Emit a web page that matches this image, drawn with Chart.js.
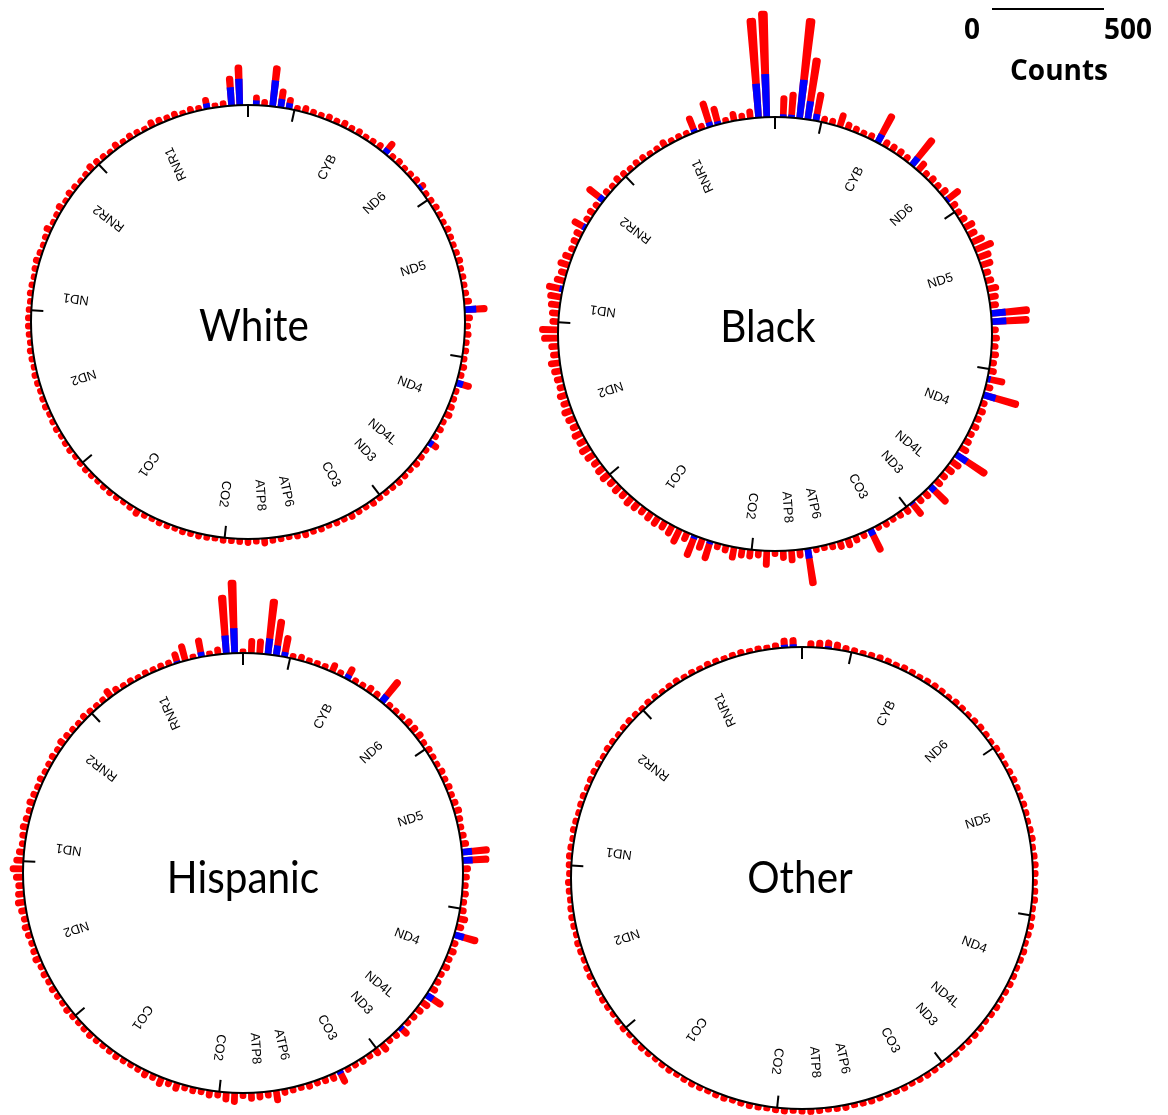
<!DOCTYPE html>
<html>
<head>
<meta charset="utf-8">
<script src="https://cdn.jsdelivr.net/npm/chart.js@4.4.1/dist/chart.umd.min.js"></script>
<style>
  html, body { margin: 0; padding: 0; background: #fff; }
  #page { position: relative; width: 1168px; height: 1115px; overflow: hidden; background: #fff; }
  canvas.ring { position: absolute; }
  .title { position: absolute; font-family: Lato, "Open Sans", sans-serif; font-size: 44px; line-height: 1;
           color: #000; transform: translate(-50%, -50%) scaleX(0.92); white-space: nowrap; }
  .scale-text { position: absolute; font-family: "Open Sans", Lato, sans-serif; font-weight: 700; font-size: 28px;
                line-height: 1; color: #000; transform: translateX(-50%); white-space: nowrap; }
  .scale-bar { position: absolute; height: 2px; background: #000; }
</style>
</head>
<body>
<div id="page"></div>
<script>
// mtDNA ring plots: variant counts in 100-bp windows, drawn outward from the genome circle.
const GENOME_LENGTH = 16569;
const BIN_SIZE = 100;
const BIN_STARTS = Array.from({ length: Math.ceil(GENOME_LENGTH / BIN_SIZE) }, (_, i) => i * BIN_SIZE);

const GENE_NAMES = ['RNR1', 'RNR2', 'ND1', 'ND2', 'CO1', 'CO2', 'ATP8', 'ATP6', 'CO3', 'ND3', 'ND4L', 'ND4', 'ND5', 'ND6', 'CYB'];
const GENE_START = [648, 1671, 3307, 4470, 5904, 7586, 8366, 8527, 9207, 10059, 10470, 10760, 12337, 14149, 14747];
const GENE_END   = [1601, 3229, 4262, 5511, 7445, 8269, 8572, 9207, 9990, 10404, 10766, 12137, 14148, 14673, 15887];
const TICK_POSITIONS = [0, 2000, 4000, 6000, 8000, 10000, 12000, 14000, 16000];

// Counts per window, genome order (window start 0, 100, 200, ...). Red = all, blue = subset.
const WHITE_TOTAL = [
  0,182,134,27,22,54,25,30,22,31,27,31,36,22,27,31,25,34,22,27,
  31,36,25,22,27,31,22,34,25,22,36,27,22,25,31,27,22,25,27,22,
  25,27,27,25,22,27,25,22,27,25,22,25,27,22,25,27,22,25,27,22,
  25,27,25,22,25,27,25,22,27,36,25,22,27,25,22,27,25,27,25,22,
  27,25,27,31,25,36,27,25,22,27,31,25,27,22,27,25,31,27,25,31,
  27,25,27,31,27,25,31,27,25,53,27,31,25,36,31,27,25,72,27,31,
  25,27,25,31,27,36,103,36,27,25,27,25,31,27,25,27,31,25,27,31,
  27,25,36,31,27,25,31,27,67,31,27,25,31,27,34,27,31,25,27,34,
  25,54,86,185,30,48
];
const WHITE_SUBSET = [
  0,118,83,0,0,25,0,0,0,0,0,0,0,0,0,0,0,0,0,0,
  0,0,0,0,0,0,0,0,0,0,0,0,0,0,0,0,0,0,0,0,
  0,0,0,0,0,0,0,0,0,0,0,0,0,0,0,0,0,0,0,0,
  0,0,0,0,0,0,0,0,0,0,0,0,0,0,0,0,0,0,0,0,
  0,0,0,0,0,0,0,0,0,0,0,0,0,0,0,0,0,0,0,0,
  0,0,0,0,0,0,0,0,0,22,0,0,0,0,0,0,0,31,0,0,
  0,0,0,0,0,0,52,0,0,0,0,0,0,0,0,0,0,0,0,0,
  0,0,15,0,0,0,0,0,25,0,0,0,0,0,0,0,0,0,0,0,
  0,26,38,117,0,21
];

const BLACK_TOTAL = [
  0,477,448,45,30,45,25,86,122,30,80,25,27,25,36,27,25,31,31,27,
  31,36,27,31,95,31,36,31,70,40,36,31,45,54,40,49,76,63,54,45,
  40,85,76,45,40,54,45,40,36,45,40,49,45,40,49,45,54,49,40,45,
  49,40,45,40,49,45,40,45,49,45,54,76,45,106,57,93,31,36,61,45,
  45,36,76,27,45,58,40,170,27,25,31,40,45,36,31,116,25,31,27,31,
  36,77,36,40,111,40,36,45,54,167,45,36,31,36,31,36,31,166,36,82,
  36,31,36,31,36,31,170,175,40,45,54,40,36,58,63,90,63,45,54,36,
  31,36,80,40,31,36,31,54,156,31,36,36,36,147,31,27,31,36,67,31,
  31,132,280,452,116,98
];
const BLACK_SUBSET = [
  0,193,152,0,0,0,0,15,22,0,15,0,0,0,0,0,0,0,0,0,
  0,0,0,0,27,0,0,0,15,0,0,0,0,0,0,0,15,0,0,0,
  0,0,0,0,0,0,0,0,0,0,0,0,0,0,0,0,0,0,0,0,
  0,0,0,0,0,0,0,0,0,0,0,0,0,15,0,13,0,0,0,0,
  0,0,0,0,0,0,0,45,0,0,0,0,0,0,0,31,0,0,0,0,
  0,10,0,0,31,0,0,0,0,60,0,0,0,0,0,0,0,57,0,15,
  0,0,0,0,0,0,66,66,0,0,0,0,0,0,0,0,0,0,0,0,
  0,0,13,0,0,0,0,0,44,0,0,0,0,42,0,0,0,0,0,0,
  0,31,83,174,13,13
];

const HISPANIC_TOTAL = [
  20,329,264,36,22,88,22,80,54,27,27,25,27,22,27,25,31,45,27,25,
  27,31,25,27,31,36,27,31,27,25,31,27,31,36,27,31,36,31,27,36,
  45,60,45,36,40,45,36,31,36,31,27,31,36,27,31,27,31,27,25,31,
  27,25,27,31,27,25,27,31,27,25,27,36,31,45,31,40,27,31,27,36,
  31,45,54,27,40,36,31,58,31,27,25,31,27,31,36,67,27,25,31,27,
  36,45,27,31,54,27,31,36,45,90,36,31,27,36,31,36,31,112,36,45,
  31,27,31,27,31,36,120,125,36,31,27,31,36,31,27,31,27,31,25,27,
  31,27,36,36,36,27,27,27,127,31,36,27,27,63,27,45,25,25,25,31,
  25,99,166,251,68,68
];
const HISPANIC_SUBSET = [
  0,112,82,0,0,22,0,0,10,0,0,0,0,0,0,0,0,0,0,0,
  0,0,0,0,0,0,0,0,0,0,0,0,0,0,0,0,0,0,0,0,
  0,0,0,0,0,0,0,0,0,0,0,0,0,0,0,0,0,0,0,0,
  0,0,0,0,0,0,0,0,0,0,0,0,0,0,0,0,0,0,0,0,
  0,0,0,0,0,0,0,0,0,0,0,0,0,0,0,15,0,0,0,0,
  0,0,0,0,15,0,0,0,0,36,0,0,0,0,0,0,0,45,0,0,
  0,0,0,0,0,0,45,45,0,0,0,0,0,0,0,0,0,0,0,0,
  0,0,0,0,0,0,0,0,37,0,0,0,0,22,0,0,0,0,0,0,
  0,22,45,72,0,0
];

const OTHER_TOTAL = [
  0,45,45,27,22,25,22,27,25,22,25,27,22,25,22,27,25,22,25,27,
  22,25,27,25,22,25,27,22,25,27,25,22,27,25,22,25,27,22,25,27,
  25,22,27,25,22,25,27,25,22,27,25,22,25,27,22,25,27,25,22,25,
  27,22,25,27,25,22,25,27,22,25,27,25,22,25,27,22,25,27,25,22,
  25,27,22,25,27,25,22,25,27,22,25,27,25,22,25,27,22,25,27,25,
  22,25,27,22,25,27,25,22,25,27,22,25,27,25,22,25,27,22,25,27,
  25,22,27,25,22,25,27,25,22,27,25,22,25,27,22,25,27,25,22,25,
  27,22,25,27,25,22,25,27,22,25,27,25,22,25,27,22,25,27,25,22,
  25,27,36,40,36,31
];
const OTHER_SUBSET = [
  0,13,13,0,0,0,0,0,0,0,0,0,0,0,0,0,0,0,0,0,
  0,0,0,0,0,0,0,0,0,0,0,0,0,0,0,0,0,0,0,0,
  0,0,0,0,0,0,0,0,0,0,0,0,0,0,0,0,0,0,0,0,
  0,0,0,0,0,0,0,0,0,0,0,0,0,0,0,0,0,0,0,0,
  0,0,0,0,0,0,0,0,0,0,0,0,0,0,0,0,0,0,0,0,
  0,0,0,0,0,0,0,0,0,0,0,0,0,0,0,0,0,0,0,0,
  0,0,0,0,0,0,0,0,0,0,0,0,0,0,0,0,0,0,0,0,
  0,0,0,0,0,0,0,0,0,0,0,0,0,0,0,0,0,0,0,0,
  0,0,0,10,0,0
];

// ---- layout ----
const PX_PER_COUNT = 111.6 / 500;   // length of the 500-count scale bar
const HALF = 350;                   // half size of each ring canvas
const BAR_FILL = 0.8;               // share of each angular slot that a bar occupies
const PANELS = [
  { name: 'White',    cx: 248, cy: 322, r: 217, total: WHITE_TOTAL,    subset: WHITE_SUBSET,    tx: 254, ty: 324 },
  { name: 'Black',    cx: 775, cy: 334, r: 217, total: BLACK_TOTAL,    subset: BLACK_SUBSET,    tx: 768, ty: 325 },
  { name: 'Hispanic', cx: 243, cy: 873, r: 220, total: HISPANIC_TOTAL, subset: HISPANIC_SUBSET, tx: 243, ty: 876 },
  { name: 'Other',    cx: 802, cy: 878, r: 231, total: OTHER_TOTAL,    subset: OTHER_SUBSET,    tx: 800, ty: 876 }
];

// Polar-area variant whose wedges start at the genome circle (value 0) and leave a gap between windows.
class RingBarController extends Chart.PolarAreaController {
  updateElement(element, index, properties, mode) {
    if (properties && properties.startAngle !== undefined) {
      const scale = this._cachedMeta.rScale;
      const slot = properties.endAngle - properties.startAngle;
      const pad = slot * (1 - BAR_FILL) / 2;
      properties.innerRadius = scale.getDistanceFromCenterForValue(0);
      properties.startAngle += pad;
      properties.endAngle -= pad;
    }
    super.updateElement(element, index, properties, mode);
  }
}
RingBarController.id = 'ringBar';
RingBarController.defaults = Object.assign({}, Chart.PolarAreaController.defaults);
RingBarController.overrides = Chart.PolarAreaController.overrides;
Chart.register(RingBarController);

// Genome circle, position ticks and gene names.
const genomeFrame = {
  id: 'genomeFrame',
  afterDatasetsDraw(chart) {
    const s = chart.scales.r;
    const ctx = chart.ctx;
    const cx = s.xCenter, cy = s.yCenter;
    const R = s.getDistanceFromCenterForValue(0);
    const dir = pos => {
      const a = pos / GENOME_LENGTH * Math.PI * 2;   // counter-clockwise from the top
      return [-Math.sin(a), -Math.cos(a)];
    };
    ctx.save();
    ctx.strokeStyle = '#000';
    ctx.lineWidth = 2;
    ctx.beginPath();
    ctx.arc(cx, cy, R, 0, Math.PI * 2);
    ctx.stroke();
    const tickLen = 12;
    TICK_POSITIONS.forEach(p => {
      const [ux, uy] = dir(p);
      ctx.beginPath();
      ctx.moveTo(cx + ux * R, cy + uy * R);
      ctx.lineTo(cx + ux * (R - tickLen), cy + uy * (R - tickLen));
      ctx.stroke();
    });
    ctx.fillStyle = '#000';
    ctx.font = "13px 'Liberation Sans', Arial, sans-serif";
    ctx.textAlign = 'center';
    ctx.textBaseline = 'middle';
    GENE_NAMES.forEach((g, i) => {
      const mid = (GENE_START[i] + GENE_END[i]) / 2;
      const [ux, uy] = dir(mid);
      const lr = R * 0.8;
      ctx.save();
      ctx.translate(cx + ux * lr, cy + uy * lr);
      ctx.rotate(Math.atan2(uy, ux));
      ctx.fillText(g, 0, 0);
      ctx.restore();
    });
    ctx.restore();
  }
};

const page = document.getElementById('page');
const NB = BIN_STARTS.length;
const SLOT_DEG = 360 / NB;
// clockwise drawing order starting at the top: window 0, then the last window, and so on
const CW_ORDER = BIN_STARTS.map((_, j) => (NB - j) % NB);

PANELS.forEach(p => {
  const canvas = document.createElement('canvas');
  canvas.className = 'ring';
  canvas.width = HALF * 2;
  canvas.height = HALF * 2;
  canvas.style.left = (p.cx - HALF) + 'px';
  canvas.style.top = (p.cy - HALF) + 'px';
  canvas.style.width = HALF * 2 + 'px';
  canvas.style.height = HALF * 2 + 'px';
  page.appendChild(canvas);

  const min = -p.r / PX_PER_COUNT;
  const max = min + HALF / PX_PER_COUNT;

  new Chart(canvas, {
    type: 'ringBar',
    data: {
      labels: CW_ORDER.map(m => BIN_STARTS[m]),
      datasets: [
        { label: 'subset', data: CW_ORDER.map(m => p.subset[m]), backgroundColor: '#0000ff',
          borderWidth: 0, borderRadius: 0 },
        { label: 'all', data: CW_ORDER.map(m => p.total[m]), backgroundColor: '#ff0000',
          borderWidth: 0, borderRadius: { outerStart: 3.5, outerEnd: 3.5, innerStart: 0, innerEnd: 0 } }
      ]
    },
    options: {
      responsive: false,
      animation: false,
      events: [],
      layout: { padding: 0 },
      plugins: { legend: { display: false }, tooltip: { enabled: false }, title: { display: false } },
      scales: {
        r: {
          type: 'radialLinear',
          display: false,
          min: min,
          max: max,
          beginAtZero: false,
          startAngle: -SLOT_DEG / 2,
          ticks: { display: false },
          grid: { display: false },
          angleLines: { display: false },
          pointLabels: { display: false }
        }
      }
    },
    plugins: [genomeFrame]
  });

  const t = document.createElement('div');
  t.className = 'title';
  t.textContent = p.name;
  t.style.left = p.tx + 'px';
  t.style.top = p.ty + 'px';
  page.appendChild(t);
});

// count scale bar
const bar = document.createElement('div');
bar.className = 'scale-bar';
bar.style.left = '992px';
bar.style.top = '8px';
bar.style.width = Math.round(500 * PX_PER_COUNT) + 'px';
page.appendChild(bar);
[['0', 972, 14], ['500', 1128, 14], ['Counts', 1059, 55]].forEach(([txt, x, y]) => {
  const d = document.createElement('div');
  d.className = 'scale-text';
  d.textContent = txt;
  d.style.left = x + 'px';
  d.style.top = y + 'px';
  page.appendChild(d);
});
</script>
</body>
</html>
